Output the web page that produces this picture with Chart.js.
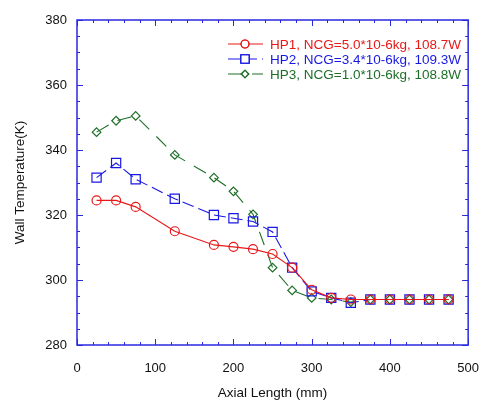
<!DOCTYPE html>
<html>
<head>
<meta charset="utf-8">
<script src="https://cdn.jsdelivr.net/npm/chart.js@4"></script>
<style>
  html, body { margin: 0; padding: 0; background: #fff; }
  #wrap { width: 495px; height: 406px; }
</style>
</head>
<body>
<div id="wrap"><canvas id="chart" width="495" height="406"></canvas></div>
<script>
// axial positions (mm)
const axial = [25, 50, 75, 125, 175, 200, 225, 250, 275, 300, 325, 350, 375, 400, 425, 450, 475];
// wall temperatures (K)
const hp1 = [324.5, 324.5, 322.5, 315, 310.8, 310.2, 309.5, 308, 303.8, 297, 294.5, 294, 294, 294, 294, 294, 294];
const hp2 = [331.5, 336, 331, 325, 320, 319, 318, 314.8, 303.8, 296.5, 294.5, 293, 294, 294, 294, 294, 294];
const hp3 = [345.5, 349, 350.5, 338.5, 331.5, 327.3, 320.2, 303.8, 296.8, 294.5, 294, 293.2, 294, 294, 294, 294, 294];
const labels = [
  'HP1, NCG=5.0*10-6kg, 108.7W',
  'HP2, NCG=3.4*10-6kg, 109.3W',
  'HP3, NCG=1.0*10-6kg, 108.8W'
];
const xTicks = [0, 100, 200, 300, 400, 500];
const yTicks = [280, 300, 320, 340, 360, 380];

const RED = 'rgb(232,24,24)';
const BLUE = 'rgb(24,24,228)';
const GREEN = 'rgb(30,110,40)';
const AXIS = 'rgb(40,40,225)';
const FONT = '"Liberation Sans", Arial, sans-serif';

function pts(ys) {
  return ys.map((y, i) => ({x: axial[i], y: y}));
}

function ds(label, ys, color, style, r, dash) {
  return {
    label: label,
    data: pts(ys),
    borderColor: color,
    backgroundColor: 'rgba(0,0,0,0)',
    borderWidth: 1.1,
    borderDash: dash,
    pointStyle: style,
    pointRadius: r,
    pointBorderColor: color,
    pointBackgroundColor: 'rgba(0,0,0,0)',
    pointBorderWidth: 1.2,
    tension: 0
  };
}

// frame with inward ticks on all four sides + legend inside the plot
const framePlugin = {
  id: 'frame',
  afterDatasetsDraw(chart) {
    const ctx = chart.ctx;
    const a = chart.chartArea;
    const xs = chart.scales.x, ys = chart.scales.y;
    ctx.save();
    ctx.strokeStyle = AXIS;
    ctx.lineWidth = 1.5;
    ctx.strokeRect(a.left, a.top, a.right - a.left, a.bottom - a.top);
    ctx.lineWidth = 1;
    ctx.beginPath();
    for (let v = xs.min; v <= xs.max; v += 20) {
      const p = Math.round(xs.getPixelForValue(v)) + 0.5;
      const len = v % 100 === 0 ? 6 : 3;
      ctx.moveTo(p, a.bottom); ctx.lineTo(p, a.bottom - len);
      ctx.moveTo(p, a.top); ctx.lineTo(p, a.top + len);
    }
    for (let v = ys.min; v <= ys.max; v += 5) {
      const p = Math.round(ys.getPixelForValue(v)) + 0.5;
      const len = v % 20 === 0 ? 6 : 3;
      ctx.moveTo(a.left, p); ctx.lineTo(a.left + len, p);
      ctx.moveTo(a.right, p); ctx.lineTo(a.right - len, p);
    }
    ctx.stroke();

    // legend
    chart.data.datasets.forEach((d, i) => {
      const y = 44 + 15 * i;
      ctx.strokeStyle = d.borderColor;
      ctx.lineWidth = d.borderWidth;
      ctx.setLineDash(d.borderDash || []);
      ctx.beginPath();
      ctx.moveTo(228, y); ctx.lineTo(263, y);
      ctx.stroke();
      ctx.setLineDash([]);
      ctx.fillStyle = '#fff';
      Chart.helpers.drawPoint(ctx, {pointStyle: d.pointStyle, radius: d.pointRadius - 0.5, borderWidth: d.pointBorderWidth, rotation: 0}, 245, y);
      ctx.stroke();
      ctx.fillStyle = d.borderColor;
      ctx.font = '13.5px ' + FONT;
      ctx.textBaseline = 'middle';
      ctx.textAlign = 'left';
      ctx.fillText(d.label, 270, y + 1);
    });
    ctx.restore();
  }
};

new Chart(document.getElementById('chart'), {
  type: 'line',
  data: {
    datasets: [
      ds(labels[0], hp1, RED, 'circle', 4.5, []),
      ds(labels[1], hp2, BLUE, 'rect', 6.5, [12, 5]),
      ds(labels[2], hp3, GREEN, 'rectRot', 4.3, [14, 10])
    ]
  },
  options: {
    responsive: false,
    animation: false,
    layout: { padding: { top: 20, right: 15, bottom: 0, left: 0 } },
    plugins: { legend: { display: false }, tooltip: { enabled: false } },
    scales: {
      x: {
        type: 'linear',
        min: 0, max: 500,
        afterBuildTicks(s) { s.ticks = xTicks.map(v => ({value: v})); },
        afterFit(s) { s.height = 61; },
        grid: { display: false, drawTicks: false },
        border: { display: false },
        ticks: { color: '#111', font: { family: FONT, size: 13 }, padding: 16, maxRotation: 0 },
        title: { display: true, text: 'Axial Length (mm)', color: '#111', font: { family: FONT, size: 13.5 }, padding: { top: 0, bottom: 5 } }
      },
      y: {
        type: 'linear',
        min: 280, max: 380,
        afterBuildTicks(s) { s.ticks = yTicks.map(v => ({value: v})); },
        afterFit(s) { s.width = 77; },
        grid: { display: false, drawTicks: false },
        border: { display: false },
        ticks: { color: '#111', font: { family: FONT, size: 13 }, padding: 10 },
        title: { display: true, text: 'Wall Temperature(K)', color: '#111', font: { family: FONT, size: 13.5 }, padding: { top: 12, bottom: 0 } }
      }
    }
  },
  plugins: [framePlugin]
});
</script>
</body>
</html>
